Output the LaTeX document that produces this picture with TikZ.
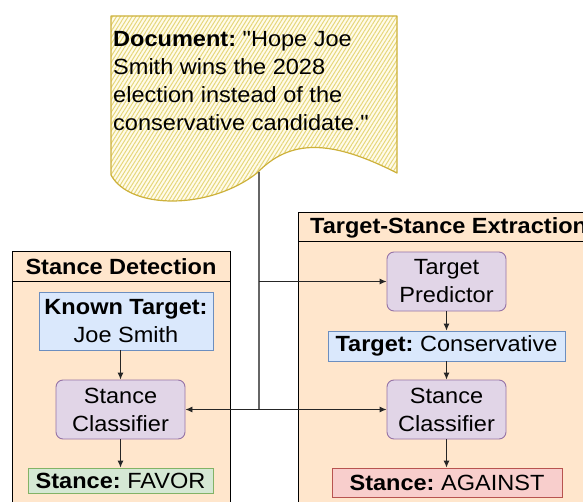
\documentclass[tikz,border=0pt]{standalone}
\usepackage{fontspec}
\setmainfont{Liberation Sans}[Ligatures=TeXOff, FakeStretch=1.07]
\usetikzlibrary{arrows.meta,patterns.meta}
\definecolor{contfill}{HTML}{FFE6CC}
\definecolor{bluefill}{HTML}{DAE8FC}
\definecolor{bluedraw}{HTML}{6C8EBF}
\definecolor{purpfill}{HTML}{E1D5E7}
\definecolor{purpdraw}{HTML}{9673A6}
\definecolor{greenfill}{HTML}{D5E8D4}
\definecolor{greendraw}{HTML}{82B366}
\definecolor{redfill}{HTML}{F8CECC}
\definecolor{reddraw}{HTML}{B85450}
\definecolor{docfill}{HTML}{FFFBEA}
\definecolor{dochatch}{HTML}{E6D77A}
\definecolor{docdraw}{HTML}{CDB13A}
\definecolor{trunk}{HTML}{666666}
\tikzset{
  txt/.style={font=\fontsize{22}{28}\selectfont\frenchspacing},
  cont/.style={draw=black, fill=contfill, line width=1pt},
  flat/.style={txt, inner sep=0pt, align=center, line width=0.9pt},
  bluebox/.style={flat, draw=bluedraw, fill=bluefill},
  purpbox/.style={flat, draw=purpdraw, fill=purpfill, rounded corners=7pt, minimum width=129pt, minimum height=59pt},
  greenbox/.style={flat, draw=greendraw, fill=greenfill},
  redbox/.style={flat, draw=reddraw, fill=redfill},
  arr/.style={-{Latex[length=7pt,width=6pt]}, line width=0.9pt, draw=black!85},
  trunkline/.style={draw=trunk, line width=1.6pt},
}
\begin{document}
\begin{tikzpicture}[x=1pt,y=-1pt]
\useasboundingbox (0,0) rectangle (583,502);
\clip (0,0) rectangle (583,502);
% document shape
\path[fill=docfill] (111,16) -- (397,16) -- (397,173)
  .. controls (330,139) and (290,139) .. (257,173)
  .. controls (210,210) and (130,210) .. (111,175) -- cycle;
\path[pattern={Lines[angle=58,distance=3.3pt,line width=1pt]}, pattern color=dochatch] (111,16) -- (397,16) -- (397,173)
  .. controls (330,139) and (290,139) .. (257,173)
  .. controls (210,210) and (130,210) .. (111,175) -- cycle;
\draw[docdraw, line width=1.2pt, line join=round] (111,16) -- (397,16) -- (397,173)
  .. controls (330,139) and (290,139) .. (257,173)
  .. controls (210,210) and (130,210) .. (111,175) -- cycle;
\node[txt, anchor=north west, align=left, inner sep=0pt] (doc) at (113,31)
  {\textbf{Document:} "Hope Joe\\Smith wins the 2028\\election instead of the\\conservative candidate."};
% containers
\draw[cont] (12,252) rectangle (230,520);
\draw[line width=1pt] (12,282) -- (230,282);
\node[txt, font=\fontsize{22}{28}\selectfont\bfseries] (t1) at (121,267) {Stance Detection};
\draw[cont] (298,213) rectangle (600,520);
\draw[line width=1pt] (298,242) -- (600,242);
\node[txt, font=\fontsize{22}{28}\selectfont\bfseries, anchor=west, inner sep=0pt] (t2) at (310,227.5) {Target-Stance Extraction};
% left nodes
\node[bluebox, minimum width=174pt, minimum height=58pt] (kt) at (126,321) {\textbf{Known Target:}\\Joe Smith};
\node[purpbox] (scl) at (120.5,409.5) {Stance\\Classifier};
\node[greenbox, minimum width=185pt, minimum height=25pt] (fav) at (120.5,480.5) {\textbf{Stance:} FAVOR};
% right nodes
\node[purpbox, minimum width=119pt] (tp) at (446.5,281.5) {Target\\Predictor};
\node[bluebox, minimum width=237pt, minimum height=30pt] (tc) at (446.5,346) {\textbf{Target:} Conservative};
\node[purpbox, minimum width=119pt] (scr) at (446.5,409.5) {Stance\\Classifier};
\node[redbox, minimum width=230pt, minimum height=29pt] (ag) at (447,482.5) {\textbf{Stance:} AGAINST};
% connectors
\coordinate (docb) at (259,172);
\coordinate (j1) at (259,281.5);
\coordinate (j2) at (259,409.5);
\draw[trunkline] (docb) -- (j2);
\draw[arr] (j1) -- (tp.west);
\draw[arr] (j2) -- (scr.west);
\draw[arr] (j2) -- (scl.east);
\draw[arr] (scl.north |- kt.south) -- (scl.north);
\draw[arr] (scl.south) -- (scl.south |- fav.north);
\draw[arr] (tp.south) -- (tc.north -| tp.south);
\draw[arr] (tc.south -| scr.north) -- (scr.north);
\draw[arr] (scr.south) -- (scr.south |- ag.north);
\end{tikzpicture}
\end{document}
